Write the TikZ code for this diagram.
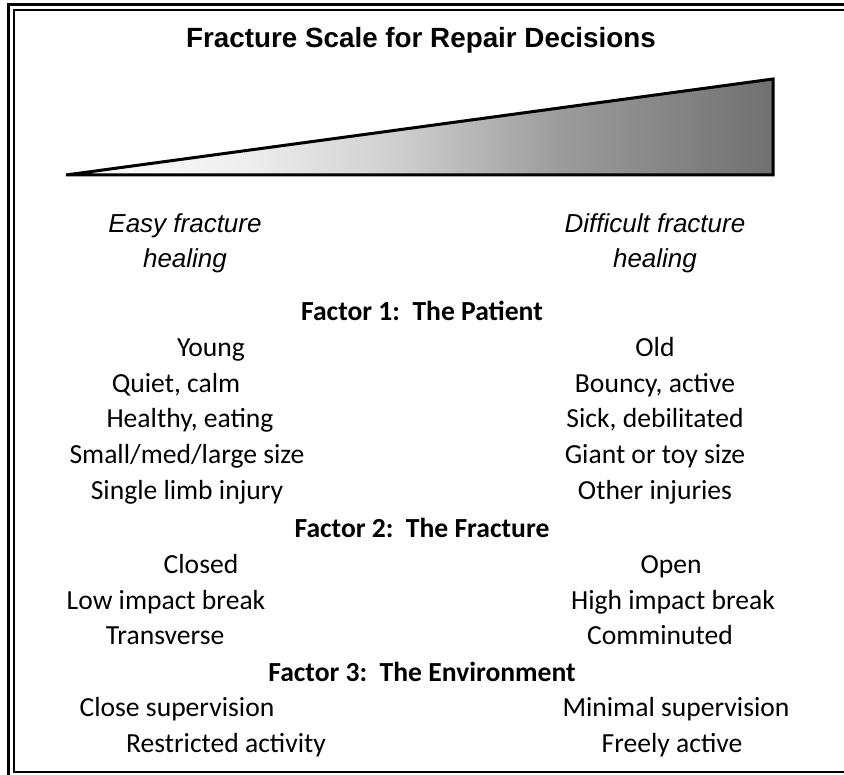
\documentclass[tikz,border=0pt]{standalone}
\usepackage{fontspec}
\setmainfont{Carlito}
\newfontfamily\arialfont{Liberation Sans}

% grey ramp for the difficulty wedge
\definecolor{wgA}{gray}{0.93}
\definecolor{wgB}{gray}{0.81}
\definecolor{wgC}{gray}{0.61}
\definecolor{wgD}{gray}{0.44}
\pgfdeclarehorizontalshading{wedgeshade}{100bp}{color(0bp)=(white); color(25bp)=(white); color(38bp)=(wgA); color(48.5bp)=(wgB); color(60bp)=(wgC); color(75bp)=(wgD); color(100bp)=(wgD)}

\begin{document}
\begin{tikzpicture}[x=1pt,y=-1pt,
  item/.style={font=\fontsize{27.6}{32}\selectfont, anchor=base, inner sep=0pt},
  factor/.style={item, font=\fontsize{27.6}{32}\selectfont\bfseries},
  endlabel/.style={item, font=\arialfont\itshape\fontsize{26}{32}\selectfont},
  titletext/.style={item, font=\arialfont\bfseries\fontsize{27.8}{32}\selectfont}]

\useasboundingbox (0,0) rectangle (844,775);
\clip (0,0) rectangle (844,775);
\fill[white] (0,0) rectangle (844,775);

% double frame
\draw[line width=3pt] (8.5,5) rectangle (852,779);
\draw[line width=2pt] (13.5,10.5) rectangle (848,772);

% title
\node[titletext] (title) at (421,48) {Fracture Scale for Repair Decisions};

% wedge
\draw[line width=3pt, line join=miter, shading=wedgeshade] (66,175) -- (773,79) -- (773,175) -- cycle;

% ends of the scale
\node[endlabel] (easyA) at (185,233) {Easy fracture};
\node[endlabel] (easyB) at (185,268) {healing};
\node[endlabel] (hardA) at (655,233) {Difficult fracture};
\node[endlabel] (hardB) at (655,268) {healing};

% factor 1
\node[factor] (fone) at (422,321) {Factor 1:\ \ The Patient};
\node[item] (p1l) at (211,357) {Young};
\node[item] (p1r) at (655,357) {Old};
\node[item] (p2l) at (176,393) {Quiet, calm};
\node[item] (p2r) at (655,393) {Bouncy, active};
\node[item] (p3l) at (190,428) {Healthy, eating};
\node[item] (p3r) at (655,428) {Sick, debilitated};
\node[item] (p4l) at (187,464) {Small/med/large size};
\node[item] (p4r) at (655,464) {Giant or toy size};
\node[item] (p5l) at (187,500) {Single limb injury};
\node[item] (p5r) at (655,500) {Other injuries};

% factor 2
\node[factor] (ftwo) at (422,538) {Factor 2:\ \ The Fracture};
\node[item] (q1l) at (201,573) {Closed};
\node[item] (q1r) at (671,573) {Open};
\node[item] (q2l) at (166,609) {Low impact break};
\node[item] (q2r) at (673,609) {High impact break};
\node[item] (q3l) at (165,644) {Transverse};
\node[item] (q3r) at (660,644) {Comminuted};

% factor 3
\node[factor] (fthree) at (422,681) {Factor 3:\ \ The Environment};
\node[item] (r1l) at (177,716) {Close supervision};
\node[item] (r1r) at (676,716) {Minimal supervision};
\node[item] (r2l) at (226,752) {Restricted activity};
\node[item] (r2r) at (672,752) {Freely active};

\end{tikzpicture}
\end{document}
